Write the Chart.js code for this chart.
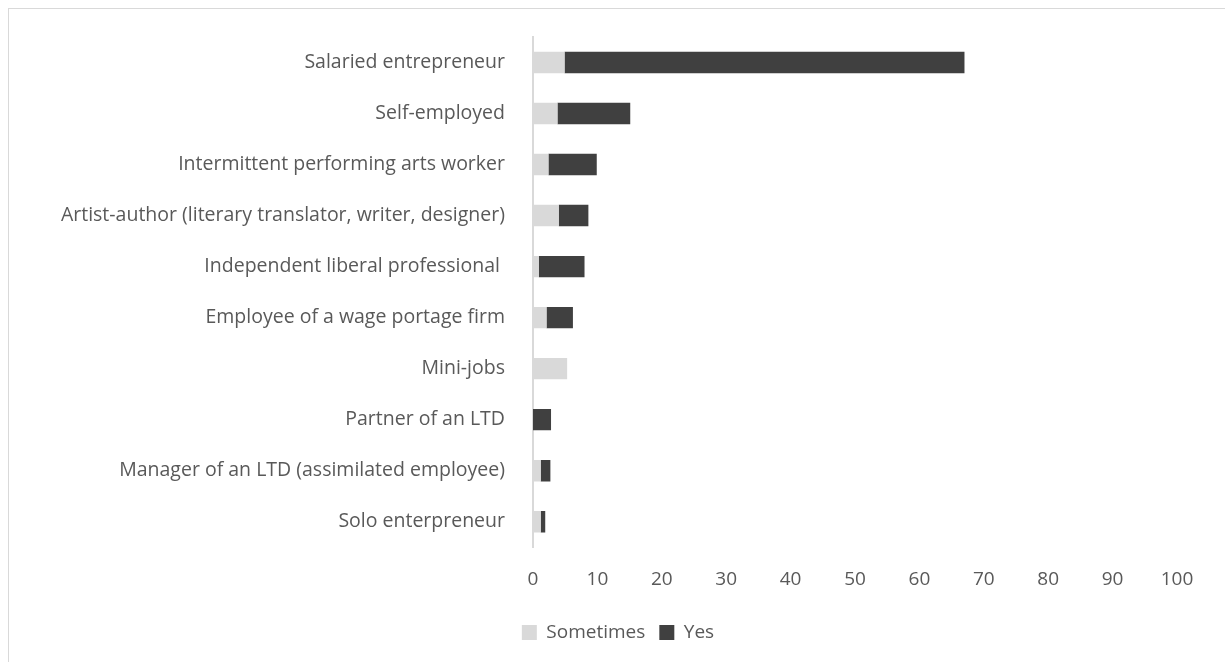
<!DOCTYPE html>
<html>
<head>
<meta charset="utf-8">
<script src="https://cdn.jsdelivr.net/npm/chart.js@4/dist/chart.umd.min.js"></script>
<style>
  html, body { margin: 0; padding: 0; background: #fff; overflow: hidden; }
  .frame { position: absolute; left: 8px; top: 8px; width: 1300px; height: 700px; border: 1px solid #d9d9d9; }
  .wrap { position: absolute; left: 0; top: 0; width: 1225px; height: 662px; }
</style>
</head>
<body>
<div class="frame"></div>
<div class="wrap"><canvas id="chart"></canvas></div>
<script>
const categories = [
  "Salaried entrepreneur",
  "Self-employed",
  "Intermittent performing arts worker",
  "Artist-author (literary translator, writer, designer)",
  "Independent liberal professional ",
  "Employee of a wage portage firm",
  "Mini-jobs",
  "Partner of an LTD",
  "Manager of an LTD (assimilated employee)",
  "Solo enterpreneur"
]
const sometimes = [4.9, 3.8, 2.4, 4.0, 0.9, 2.1, 5.3, 0, 1.2, 1.2]
const yes = [62.1, 11.3, 7.5, 4.6, 7.1, 4.1, 0, 2.8, 1.5, 0.7]
const xTicks = [0, 10, 20, 30, 40, 50, 60, 70, 80, 90, 100]

const font = "Open Sans"
const textColor = "#595959"

var ctx = document.getElementById("chart")
var chart = new Chart(ctx, {
  type: 'bar',
  data: {
    labels: categories,
    datasets: [{
      label: 'Sometimes',
      data: sometimes,
      backgroundColor: '#d9d9d9',
      barPercentage: 0.42,
      categoryPercentage: 1
    }, {
      label: 'Yes',
      data: yes,
      backgroundColor: '#404040',
      barPercentage: 0.42,
      categoryPercentage: 1
    }]
  },
  options: {
    indexAxis: 'y',
    responsive: true,
    maintainAspectRatio: false,
    animation: false,
    // left padding only moves the legend centre; the y axis width is fixed below
    layout: { padding: { top: 37, right: 48, bottom: 10, left: 59 } },
    plugins: {
      legend: {
        position: 'bottom',
        labels: {
          color: textColor,
          font: { family: font, size: 19 },
          boxWidth: 15,
          boxHeight: 15,
          padding: 14
        }
      },
      tooltip: { enabled: false }
    },
    scales: {
      x: {
        stacked: true,
        min: 0,
        max: 100,
        afterBuildTicks: function (scale) {
          scale.ticks = xTicks.map(v => ({ value: v }))
        },
        afterFit: function (scale) {
          scale.height += 5
        },
        grid: { display: false },
        border: { display: false },
        ticks: {
          color: textColor,
          font: { family: font, size: 19 },
          padding: 13
        }
      },
      y: {
        stacked: true,
        grid: { display: false },
        border: { display: true, color: '#d9d9d9', width: 2 },
        afterFit: function (scale) {
          scale.width = 474
        },
        ticks: {
          color: textColor,
          font: { family: font, size: 19.5 },
          padding: 20
        }
      }
    }
  }
})
</script>
</body>
</html>
